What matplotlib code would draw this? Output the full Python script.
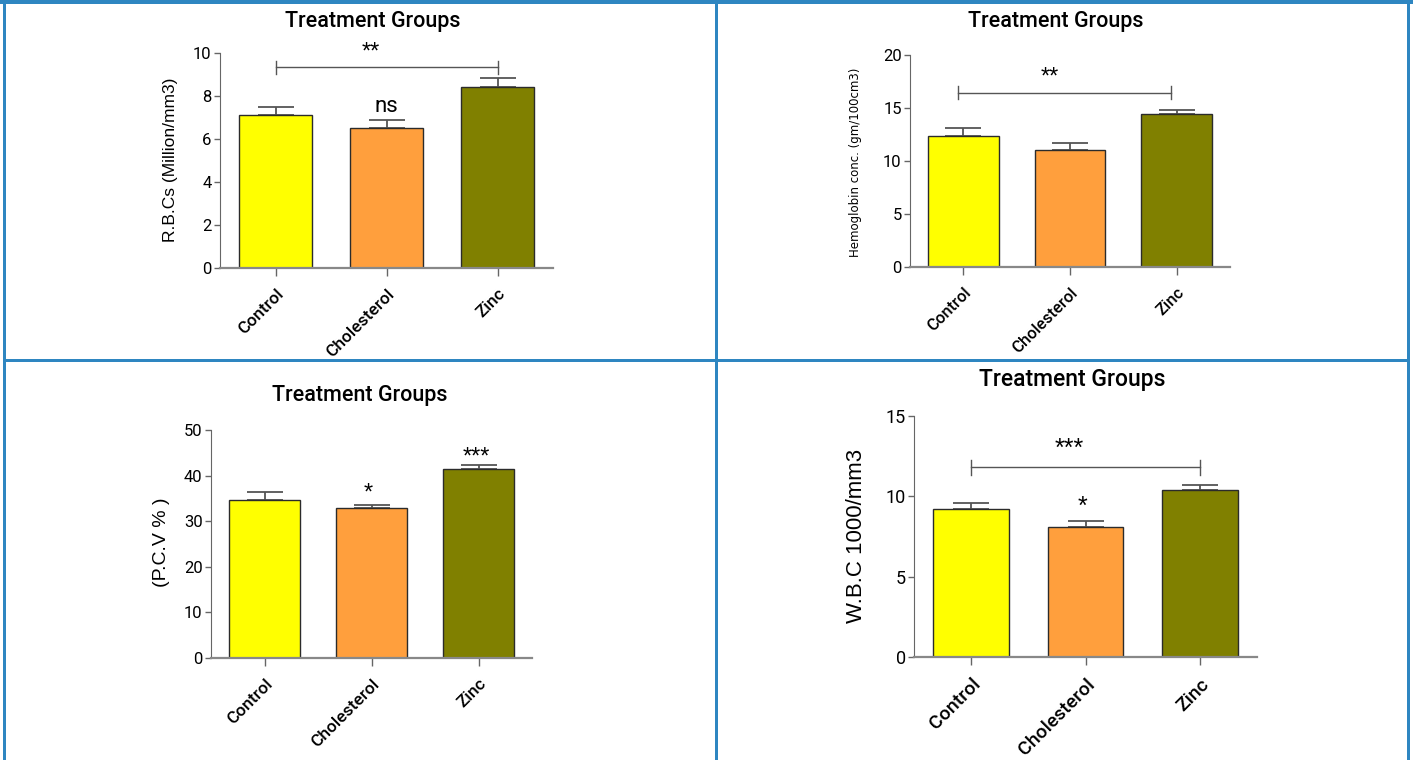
"""
Treatment group bar charts (RBC, Hb, PCV, WBC) - 2x2 panel layout
"""
import numpy as np
import matplotlib
matplotlib.use("Agg")
import matplotlib.pyplot as plt
from matplotlib.patches import Rectangle

plt.rcParams["font.family"] = ["Roboto", "DejaVu Sans"]

# === data ===
groups = ["Control", "Cholesterol", "Zinc"]
colors = ["#ffff00", "#ff9f3d", "#808000"]

rbc_mean = [7.1, 6.5, 8.4]
rbc_err = [0.4, 0.4, 0.42]

hb_mean = [12.4, 11.0, 14.4]
hb_err = [0.75, 0.7, 0.45]

pcv_mean = [34.7, 32.8, 41.5]
pcv_err = [1.8, 0.7, 0.8]

wbc_mean = [9.2, 8.1, 10.4]
wbc_err = [0.4, 0.38, 0.3]

W, H = 1413, 760
fig = plt.figure(figsize=(W / 100, H / 100), dpi=100)
SANS = ["Liberation Sans", "DejaVu Sans"]


def px_axes(x0, x1, ytop, ybot):
    return fig.add_axes([x0 / W, 1 - ybot / H, (x1 - x0) / W, (ybot - ytop) / H])


def bar_panel(ax, means, errs, ymax, yticks, tick_fs, xlab_fs):
    x = np.arange(len(groups))
    ax.bar(x, means, width=0.66, color=colors, edgecolor="#2b2b2b", linewidth=1, zorder=2)
    ax.errorbar(x, means, yerr=[np.zeros(len(errs)), errs], fmt="none",
                ecolor="#555555", elinewidth=1.3, capsize=13, capthick=1.3, zorder=1)
    ax.set_xlim(-0.5, 2.5)
    ax.set_ylim(0, ymax)
    ax.set_yticks(yticks)
    ax.set_xticks(x)
    ax.set_xticklabels(groups, rotation=45, ha="right", rotation_mode="anchor",
                       fontsize=xlab_fs, fontweight="medium")
    ax.tick_params(axis="y", labelsize=tick_fs, length=4, width=1, color="#666666", pad=2)
    ax.tick_params(axis="x", length=6, width=1, color="#666666", pad=7)
    for s in ["top", "right"]:
        ax.spines[s].set_visible(False)
    ax.spines["left"].set_color("#666666")
    ax.spines["bottom"].set_color("#888888")
    ax.spines["bottom"].set_linewidth(1.6)
    ax.patch.set_alpha(0)


def bracket(ax, x0, x1, y, cap, label, ly, fs):
    ax.plot([x0, x1], [y, y], color="#555555", lw=1, clip_on=False)
    for xx in (x0, x1):
        ax.plot([xx, xx], [y - cap, y + cap], color="#555555", lw=1, clip_on=False)
    ax.text((x0 + x1) / 2 - 0.14, ly, label, ha="center", va="baseline",
            fontsize=fs, family=SANS, clip_on=False)


title_kw = dict(fontweight="medium", ha="center", va="center")

# --- RBC ---
ax1 = px_axes(220, 553, 53, 268)
bar_panel(ax1, rbc_mean, rbc_err, 10, [0, 2, 4, 6, 8, 10], 12, 12.5)
bracket(ax1, 0, 2, 9.33, 0.3, "**", 9.73, 17)
ax1.text(1, 7.27, "ns", ha="center", va="baseline", fontsize=16)
fig.text(170 / W, 1 - 160 / H, "R.B.Cs (Million/mm3)", rotation=90, ha="center",
         va="center", fontsize=12.5, family=SANS)
fig.text(373 / W, 1 - 21 / H, "Treatment Groups", fontsize=15.5, **title_kw)

# --- Hemoglobin ---
ax2 = px_axes(910, 1230, 55, 267)
bar_panel(ax2, hb_mean, hb_err, 20, [0, 5, 10, 15, 20], 12, 12)
bracket(ax2, -0.05, 1.95, 16.45, 0.6, "**", 17.3, 17)
fig.text(855 / W, 1 - 162 / H, "Hemoglobin conc. (gm/100cm3)", rotation=90,
         ha="center", va="center", fontsize=8.5, family=["DejaVu Sans"])
fig.text(1056 / W, 1 - 22 / H, "Treatment Groups", fontsize=15.5, **title_kw)

# --- PCV ---
ax3 = px_axes(211, 532, 430, 658)
bar_panel(ax3, pcv_mean, pcv_err, 50, [0, 10, 20, 30, 40, 50], 12, 12.5)
ax3.text(0.97, 34.8, "*", ha="center", va="baseline", fontsize=17, family=SANS)
ax3.text(1.98, 42.6, "***", ha="center", va="baseline", fontsize=17, family=SANS,
         clip_on=False)
fig.text(162 / W, 1 - 542 / H, "(P.C.V % )", rotation=90, ha="center",
         va="center", fontsize=14, family=SANS)
fig.text(360 / W, 1 - 396 / H, "Treatment Groups", fontsize=15.5, **title_kw)

# --- WBC ---
ax4 = px_axes(914, 1257, 416, 657)
bar_panel(ax4, wbc_mean, wbc_err, 15, [0, 5, 10, 15], 13, 14)
bracket(ax4, 0, 2, 11.8, 0.47, "***", 12.5, 18)
ax4.text(0.97, 8.9, "*", ha="center", va="baseline", fontsize=18, family=SANS)
fig.text(857 / W, 1 - 536 / H, "W.B.C 1000/mm3", rotation=90, ha="center",
         va="center", fontsize=16, family=SANS)
fig.text(1072 / W, 1 - 379 / H, "Treatment Groups", fontsize=16.5, **title_kw)

# --- table borders ---
bc = "#2e86c1"
for (x, y, w, h) in [(0, 0, W, 4), (3, 0, 3, H), (715, 0, 3, H),
                     (1407, 0, 3, H), (3, 359, 1407, 3)]:
    fig.patches.append(Rectangle((x / W, 1 - (y + h) / H), w / W, h / H,
                                 transform=fig.transFigure, color=bc, lw=0))

fig.savefig("out.png", dpi=100)
